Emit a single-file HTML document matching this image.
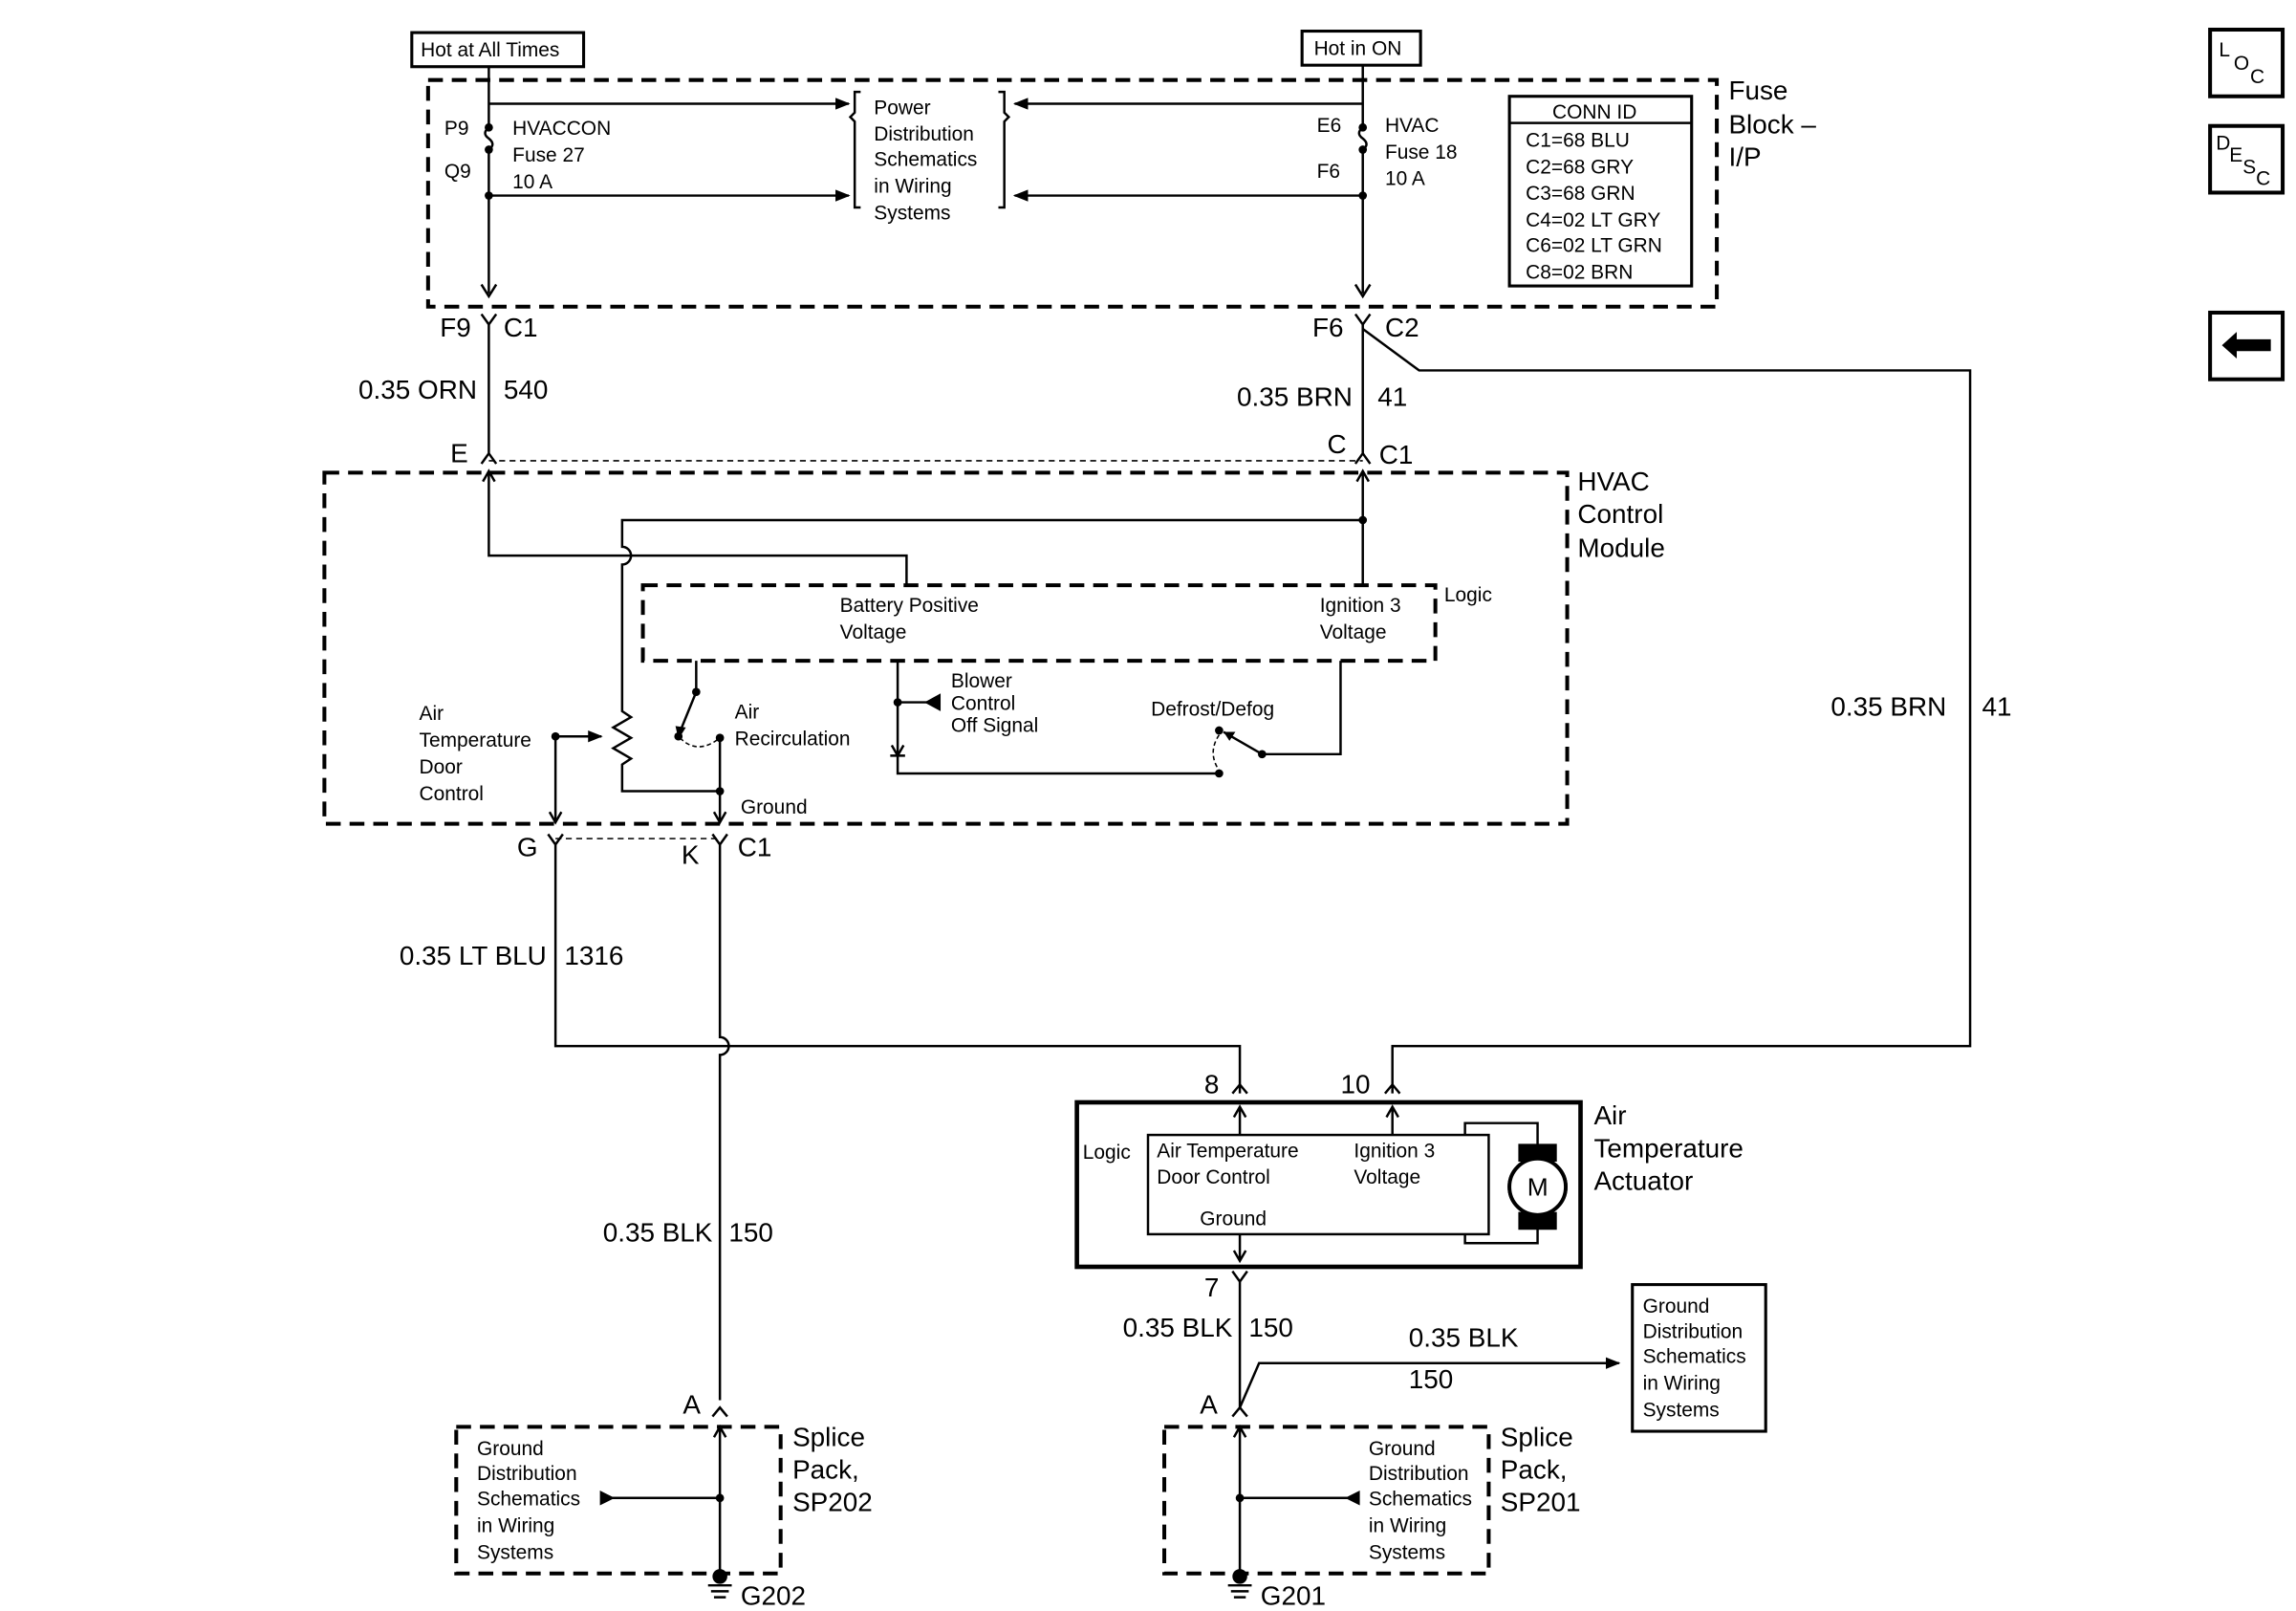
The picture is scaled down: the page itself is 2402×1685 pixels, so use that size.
<!DOCTYPE html>
<html><head><meta charset="utf-8"><style>
html,body{margin:0;padding:0;background:#fff}
svg{display:block}
text{font-family:"Liberation Sans",sans-serif;fill:#000}
.s{font-size:13.5px}
.m{font-size:18px}
</style></head><body>
<svg width="2402" height="1685" viewBox="0 0 1550 1087.3" preserveAspectRatio="none" xmlns="http://www.w3.org/2000/svg">
<defs>
<marker id="ar" markerWidth="10" markerHeight="8" refX="9" refY="4" orient="auto" markerUnits="userSpaceOnUse"><path d="M0,0 L10,4 L0,8 z" fill="#000"/></marker>
</defs>
<g fill="none" stroke="#000" stroke-width="1.6">
<rect x="278" y="22" width="116" height="23" stroke-width="2"/>
<rect x="879" y="21" width="80" height="23" stroke-width="2"/>
<rect x="289" y="54" width="870" height="153" stroke-width="2.6" stroke-dasharray="10,6"/>
<path d="M330,45 V86 M330,101 V198"/>
<path d="M330,86 q-5,4 0,7.5 q5,4 0,7.5"/>
<path d="M330,70 H573" marker-end="url(#ar)"/>
<path d="M330,132 H573" marker-end="url(#ar)"/>
<path d="M325,192 L330,200 L335,192"/>
<path d="M581,62 h-4 v14 l-3,3 l3,3 v58 h4"/>
<path d="M674,62 h4 v14 l3,3 l-3,3 v58 h-4"/>
<path d="M920,44 V86 M920,101 V198"/>
<path d="M920,86 q-5,4 0,7.5 q5,4 0,7.5"/>
<path d="M920,70 H685" marker-end="url(#ar)"/>
<path d="M920,132 H685" marker-end="url(#ar)"/>
<path d="M915,192 L920,200 L925,192"/>
<rect x="1019" y="65" width="123" height="128" stroke-width="2"/>
<path d="M1019,83 H1142"/>
<path d="M325,212 L330,219 L335,212 M330,219 V306 M325,313 L330,306 L335,313"/>
<path d="M915,212 L920,219 L925,212 M920,219 V306 M915,313 L920,306 L925,313"/>
<path d="M920,222 L958,250 H1330 V706 H940 V738"/>
<path d="M935,738 L940,732 L945,738"/>
<path d="M330,311 H920" stroke-width="1" stroke-dasharray="4,3"/>
<rect x="219" y="319" width="839" height="237" stroke-width="2.6" stroke-dasharray="10,6"/>
<path d="M330,318 V375 H612 V395"/>
<path d="M326,325 L330,318 L334,325"/>
<path d="M920,318 V395"/>
<path d="M916,325 L920,318 L924,325"/>
<path d="M920,351 H420 V369 a5,5 0 0 1 0,12 V480 l6,4 l-12,7 l12,7 l-12,7 l12,7 l-6,4 V534 H486"/>
<rect x="434" y="395" width="535" height="51" stroke-width="2.6" stroke-dasharray="10,6"/>
<path d="M470,446 V467 L459,494"/>
<path d="M459,498 q12,12 27,0" stroke-width="1" stroke-dasharray="3,2"/>
<path d="M486,498 V555"/>
<path d="M482,548 L486,555 L490,548"/>
<path d="M375,497 H406" marker-end="url(#ar)"/>
<path d="M375,497 V555"/>
<path d="M371,548 L375,555 L379,548"/>
<path d="M606,446 V522 H823"/>
<path d="M606,474 H626"/>
<path d="M602,503 L606,510 L610,503 M601,510 H611"/>
<path d="M905,446 V509 H852 L826,494"/>
<path d="M823,496 q-8,12 0,24" stroke-width="1" stroke-dasharray="3,2"/>
<path d="M370,563 L375,570 L380,563 M375,570 V706 H837 V738"/>
<path d="M481,563 L486,570 L491,563 M486,570 V700 a6,6 0 0 1 0,12 V945"/>
<path d="M832,738 L837,732 L842,738"/>
<path d="M375,566 H486" stroke-width="1" stroke-dasharray="4,3"/>
<rect x="727" y="744" width="340" height="111" stroke-width="3"/>
<rect x="775" y="766" width="230" height="67"/>
<path d="M837,766 V748 M940,766 V748"/>
<path d="M833,754 L837,747 L841,754 M936,754 L940,747 L944,754"/>
<path d="M989,766 V758 H1038 V781 M1038,821 V839 H989 V833"/>
<circle cx="1038" cy="801" r="19" stroke-width="2.5"/>
<path d="M1025,772 h26 v12 h-26 z M1025,818 h26 v12 h-26 z" fill="#000" stroke="none"/>
<circle cx="1038" cy="801" r="19" stroke-width="2.5" fill="#fff"/>
<path d="M837,833 V850 M833,844 L837,851 L841,844"/>
<path d="M832,858 L837,865 L842,858 M837,865 V950"/>
<path d="M837,950 L850,920 H1093" marker-end="url(#ar)"/>
<path d="M832,956 L837,950 L842,956 M481,956 L486,950 L491,956"/>
<rect x="1102" y="867" width="90" height="99" stroke-width="2"/>
<rect x="308" y="963" width="219" height="99" stroke-width="2.6" stroke-dasharray="10,6"/>
<rect x="786" y="963" width="219" height="99" stroke-width="2.6" stroke-dasharray="10,6"/>
<path d="M486,963 V1062 M482,970 L486,963 L490,970"/>
<path d="M486,1011 H413"/>
<path d="M837,963 V1062 M833,970 L837,963 L841,970"/>
<path d="M837,1011 H914"/>
<path d="M478,1070 h16 M480,1074 h12 M482,1078 h8 M829,1070 h16 M831,1074 h12 M833,1078 h8"/>
<rect x="1492" y="20" width="49" height="45" stroke-width="2.6"/>
<rect x="1492" y="85" width="49" height="45" stroke-width="2.6"/>
<rect x="1492" y="211" width="49" height="45" stroke-width="2.6"/>
</g>
<g fill="#000">
<circle cx="330" cy="86" r="2.8"/><circle cx="330" cy="101" r="2.8"/><circle cx="330" cy="132" r="2.8"/>
<circle cx="920" cy="86" r="2.8"/><circle cx="920" cy="101" r="2.8"/><circle cx="920" cy="132" r="2.8"/>
<circle cx="920" cy="351" r="2.8"/>
<circle cx="470" cy="467" r="2.8"/><circle cx="458" cy="497" r="2.8"/><circle cx="486" cy="498" r="2.8"/><circle cx="486" cy="534" r="2.8"/>
<circle cx="375" cy="497" r="2.8"/><circle cx="606" cy="474" r="2.8"/>
<circle cx="852" cy="509" r="2.8"/><circle cx="823" cy="493" r="2.8"/><circle cx="823" cy="522" r="2.8"/>
<path d="M456,490 L458,499 L463,491 z"/>
<path d="M625,468 L636,474 L625,480 z" transform="rotate(180 630 474)"/>
<path d="M826,494 L834,494 L830,500 z"/>
<circle cx="486" cy="1011" r="2.8"/><circle cx="837" cy="1011" r="2.8"/>
<path d="M405,1006 L415,1011 L405,1016 z"/>
<path d="M918,1006 L908,1011 L918,1016 z"/>
<circle cx="486" cy="1064" r="5"/><circle cx="837" cy="1064" r="5"/>
<path d="M1500,233 l10,-9 v5 h23 v8 h-23 v5 z"/>
</g>
<text class="s" x="284" y="38">Hot at All Times</text>
<text class="s" x="887" y="37">Hot in ON</text>
<text class="s" x="300" y="91">P9</text><text class="s" x="300" y="120">Q9</text>
<text class="s" x="346" y="91">HVACCON</text><text class="s" x="346" y="109">Fuse 27</text><text class="s" x="346" y="127">10 A</text>
<text class="s" x="590" y="77">Power</text><text class="s" x="590" y="95">Distribution</text><text class="s" x="590" y="112">Schematics</text><text class="s" x="590" y="130">in Wiring</text><text class="s" x="590" y="148">Systems</text>
<text class="s" x="889" y="89">E6</text><text class="s" x="889" y="120">F6</text>
<text class="s" x="935" y="89">HVAC</text><text class="s" x="935" y="107">Fuse 18</text><text class="s" x="935" y="125">10 A</text>
<text class="s" x="1048" y="80">CONN ID</text>
<text class="s" x="1030" y="99">C1=68 BLU</text><text class="s" x="1030" y="117">C2=68 GRY</text><text class="s" x="1030" y="135">C3=68 GRN</text><text class="s" x="1030" y="153">C4=02 LT GRY</text><text class="s" x="1030" y="170">C6=02 LT GRN</text><text class="s" x="1030" y="188">C8=02 BRN</text>
<text class="m" x="1167" y="67">Fuse</text><text class="m" x="1167" y="90">Block –</text><text class="m" x="1167" y="112">I/P</text>
<text class="m" x="297" y="227">F9</text><text class="m" x="340" y="227">C1</text>
<text class="m" x="886" y="227">F6</text><text class="m" x="935" y="227">C2</text>
<text class="m" x="322" y="269" text-anchor="end">0.35 ORN</text><text class="m" x="340" y="269">540</text>
<text class="m" x="913" y="274" text-anchor="end">0.35 BRN</text><text class="m" x="930" y="274">41</text>
<text class="m" x="304" y="312">E</text><text class="m" x="896" y="306">C</text><text class="m" x="931" y="313">C1</text>
<text class="m" x="1065" y="331">HVAC</text><text class="m" x="1065" y="353">Control</text><text class="m" x="1065" y="376">Module</text>
<text class="s" x="975" y="406">Logic</text>
<text class="s" x="567" y="413">Battery Positive</text><text class="s" x="567" y="431">Voltage</text>
<text class="s" x="891" y="413">Ignition 3</text><text class="s" x="891" y="431">Voltage</text>
<text class="s" x="283" y="486">Air</text><text class="s" x="283" y="504">Temperature</text><text class="s" x="283" y="522">Door</text><text class="s" x="283" y="540">Control</text>
<text class="s" x="496" y="485">Air</text><text class="s" x="496" y="503">Recirculation</text>
<text class="s" x="642" y="464">Blower</text><text class="s" x="642" y="479">Control</text><text class="s" x="642" y="494">Off Signal</text>
<text class="s" x="777" y="483">Defrost/Defog</text>
<text class="s" x="500" y="549">Ground</text>
<text class="m" x="349" y="578">G</text><text class="m" x="460" y="583">K</text><text class="m" x="498" y="578">C1</text>
<text class="m" x="1236" y="483">0.35 BRN</text><text class="m" x="1338" y="483">41</text>
<text class="m" x="369" y="651" text-anchor="end">0.35 LT BLU</text><text class="m" x="381" y="651">1316</text>
<text class="m" x="813" y="738">8</text><text class="m" x="905" y="738">10</text>
<text class="m" x="1076" y="759">Air</text><text class="m" x="1076" y="781">Temperature</text><text class="m" x="1076" y="803">Actuator</text>
<text class="s" x="731" y="782">Logic</text>
<text class="s" x="781" y="781">Air Temperature</text><text class="s" x="781" y="799">Door Control</text>
<text class="s" x="914" y="781">Ignition 3</text><text class="s" x="914" y="799">Voltage</text>
<text class="s" x="810" y="827">Ground</text>
<text class="m" x="1031" y="807" style="font-size:17px">M</text>
<text class="m" x="481" y="838" text-anchor="end">0.35 BLK</text><text class="m" x="492" y="838">150</text>
<text class="m" x="813" y="875">7</text>
<text class="m" x="832" y="902" text-anchor="end">0.35 BLK</text><text class="m" x="843" y="902">150</text>
<text class="m" x="951" y="909">0.35 BLK</text><text class="m" x="951" y="937">150</text>
<text class="s" x="1109" y="886">Ground</text><text class="s" x="1109" y="903">Distribution</text><text class="s" x="1109" y="920">Schematics</text><text class="s" x="1109" y="938">in Wiring</text><text class="s" x="1109" y="956">Systems</text>
<text class="m" x="461" y="954">A</text><text class="m" x="810" y="954">A</text>
<text class="m" x="535" y="976">Splice</text><text class="m" x="535" y="998">Pack,</text><text class="m" x="535" y="1020">SP202</text>
<text class="m" x="1013" y="976">Splice</text><text class="m" x="1013" y="998">Pack,</text><text class="m" x="1013" y="1020">SP201</text>
<text class="s" x="322" y="982">Ground</text><text class="s" x="322" y="999">Distribution</text><text class="s" x="322" y="1016">Schematics</text><text class="s" x="322" y="1034">in Wiring</text><text class="s" x="322" y="1052">Systems</text>
<text class="s" x="924" y="982">Ground</text><text class="s" x="924" y="999">Distribution</text><text class="s" x="924" y="1016">Schematics</text><text class="s" x="924" y="1034">in Wiring</text><text class="s" x="924" y="1052">Systems</text>
<text class="m" x="500" y="1083">G202</text><text class="m" x="851" y="1083">G201</text>
<text class="s" x="1498" y="38">L</text><text class="s" x="1508" y="47">O</text><text class="s" x="1519" y="56">C</text>
<text class="s" x="1496" y="101">D</text><text class="s" x="1505" y="109">E</text><text class="s" x="1514" y="117">S</text><text class="s" x="1523" y="125">C</text>
</svg>
</body></html>
